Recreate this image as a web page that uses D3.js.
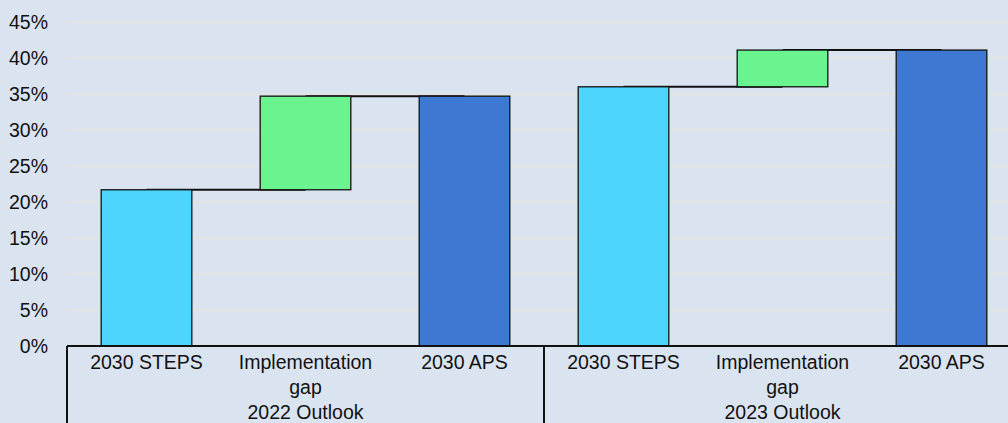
<!DOCTYPE html>
<html>
<head>
<meta charset="utf-8">
<script src="https://cdn.jsdelivr.net/npm/d3@7"></script>
<style>
  body { margin: 0; background: #dae4f0; }
  svg text { font-family: "Liberation Sans", Arial, sans-serif; fill: #111; }
</style>
</head>
<body>
<div id="chart"></div>
<script>
// data
const groups = ["2022 Outlook", "2023 Outlook"];
const categories = ["2030 STEPS", "Implementation gap", "2030 APS"];
const stepsValues = [21.7, 36.0];
const apsValues = [34.7, 41.1];
const yTicks = [0, 5, 10, 15, 20, 25, 30, 35, 40, 45];

const width = 1008;
const height = 423;
const margin = {left: 67, right: -13, top: 22, bottom: 77};
const fontSize = "19.5px";

const colors = {steps: "#4dd5fd", gap: "#69f490", aps: "#3f78d2"};

// one row per bar, waterfall style
const rows = [];
groups.forEach((g, gi) => {
  rows.push({key: g + "|0", group: g, label: categories[0], lo: 0, hi: stepsValues[gi], color: colors.steps});
  rows.push({key: g + "|1", group: g, label: categories[1], lo: stepsValues[gi], hi: apsValues[gi], color: colors.gap});
  rows.push({key: g + "|2", group: g, label: categories[2], lo: 0, hi: apsValues[gi], color: colors.aps});
});

const svg = d3.select("#chart")
  .append("svg")
  .attr("width", width)
  .attr("height", height);

const x = d3.scaleBand()
  .domain(rows.map(d => d.key))
  .range([margin.left, width - margin.right])
  .paddingInner(0.43)
  .paddingOuter(0.215);

const xGroup = d3.scaleBand()
  .domain(groups)
  .range([margin.left, width - margin.right]);

const y = d3.scaleLinear()
  .domain([0, 45])
  .range([height - margin.bottom, margin.top]);

// gridlines
svg.append("g")
  .selectAll("line")
  .data(yTicks.filter(t => t > 0))
  .join("line")
  .attr("x1", margin.left)
  .attr("x2", width)
  .attr("y1", d => y(d))
  .attr("y2", d => y(d))
  .attr("stroke", "#e6e3df")
  .attr("stroke-width", 1.5);

// y axis labels
const yAxis = svg.append("g")
  .attr("transform", `translate(${margin.left},0)`)
  .call(d3.axisLeft(y).tickValues(yTicks).tickFormat(d => d + "%").tickSize(0).tickPadding(19));
yAxis.select(".domain").remove();
yAxis.selectAll("text")
  .attr("font-size", fontSize)
  .style("font-family", "Liberation Sans, Arial, sans-serif")
  .attr("fill", "#111");

// connectors
const connectors = [];
groups.forEach((g, gi) => {
  connectors.push({from: g + "|0", to: g + "|1", v: stepsValues[gi]});
  connectors.push({from: g + "|1", to: g + "|2", v: apsValues[gi]});
});
svg.append("g")
  .selectAll("line")
  .data(connectors)
  .join("line")
  .attr("x1", d => x(d.from) + x.bandwidth() / 2)
  .attr("x2", d => x(d.to) + x.bandwidth() / 2)
  .attr("y1", d => y(d.v))
  .attr("y2", d => y(d.v))
  .attr("stroke", "#111")
  .attr("stroke-width", 2);

// bars
svg.append("g")
  .selectAll("rect")
  .data(rows)
  .join("rect")
  .attr("x", d => x(d.key))
  .attr("width", x.bandwidth())
  .attr("y", d => y(d.hi))
  .attr("height", d => y(d.lo) - y(d.hi))
  .attr("fill", d => d.color)
  .attr("stroke", "#111")
  .attr("stroke-width", 1.3);

// x axis line and group separators
const base = y(0);
svg.append("line")
  .attr("x1", margin.left).attr("x2", width)
  .attr("y1", base).attr("y2", base)
  .attr("stroke", "#111").attr("stroke-width", 2);

svg.append("g")
  .selectAll("line")
  .data(groups)
  .join("line")
  .attr("x1", d => xGroup(d))
  .attr("x2", d => xGroup(d))
  .attr("y1", base)
  .attr("y2", height)
  .attr("stroke", "#111")
  .attr("stroke-width", 2);

// category labels (may wrap to two lines)
const catLabels = svg.append("g")
  .selectAll("text")
  .data(rows)
  .join("text")
  .attr("text-anchor", "middle")
  .attr("font-size", fontSize)
  .attr("y", base + 23);
catLabels.each(function(d) {
  const t = d3.select(this);
  const cx = x(d.key) + x.bandwidth() / 2;
  const parts = d.label === "Implementation gap" ? ["Implementation", "gap"] : [d.label];
  parts.forEach((p, i) => {
    t.append("tspan").attr("x", cx).attr("dy", i === 0 ? 0 : 25).text(p);
  });
});

// group labels
svg.append("g")
  .selectAll("text")
  .data(groups)
  .join("text")
  .attr("text-anchor", "middle")
  .attr("font-size", fontSize)
  .attr("x", d => xGroup(d) + xGroup.bandwidth() / 2)
  .attr("y", base + 73)
  .text(d => d);
</script>
</body>
</html>
